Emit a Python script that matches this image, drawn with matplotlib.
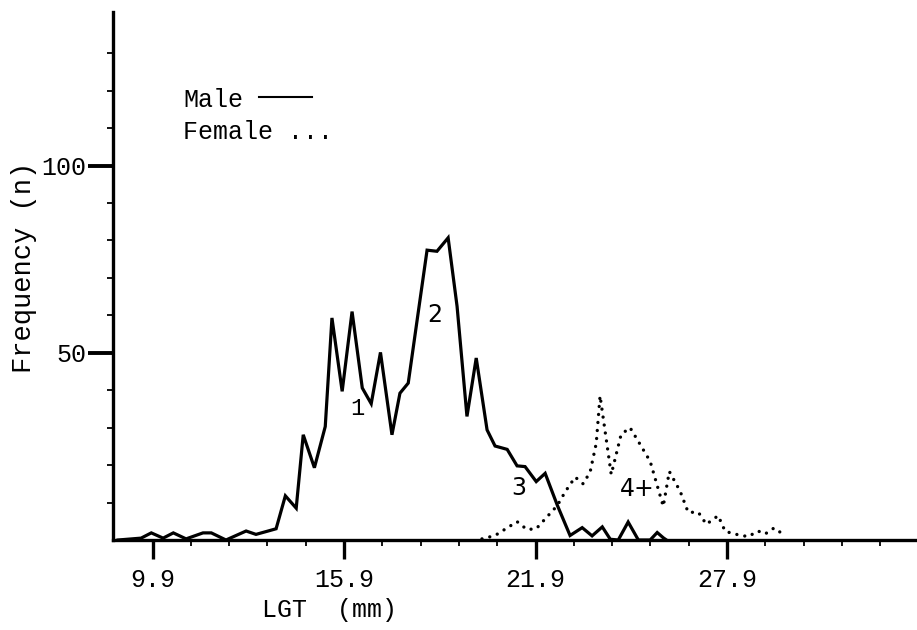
import numpy as np
import matplotlib as mpl
import matplotlib.pyplot as plt
from matplotlib.lines import Line2D

mpl.use("Agg")

plt.rcParams.update({"font.family": ["Liberation Mono", "DejaVu Sans Mono"]})
plt.rcParams.update({"font.size": 18})

# LGT (mm) vs frequency (n)
male_lgt = [8.82, 9.54, 9.86, 10.23, 10.55, 10.95, 11.48, 11.74, 12.2, 12.83,
            13.14, 13.52, 13.77, 14.06, 14.4, 14.62, 14.97, 15.31, 15.52, 15.84,
            16.15, 16.47, 16.75, 17.04, 17.4, 17.65, 17.91, 18.19, 18.5, 18.81,
            19.16, 19.44, 19.75, 20.04, 20.38, 20.63, 21.01, 21.32, 21.57, 21.92,
            22.2, 22.58, 22.98, 23.36, 23.67, 23.99, 24.24, 24.49, 24.8, 25.12,
            25.49, 25.71, 25.9, 26.0]
male_n = [0, 0.5, 1.9, 0.5, 1.9, 0.3, 1.9, 1.9, 0, 2.4,
          1.5, 2.4, 3.0, 11.8, 8.5, 28.1, 19.3, 30.3, 59.3, 39.7,
          61.0, 40.6, 36.4, 50.1, 28.1, 39.2, 41.9, 58.8, 77.4, 77.1,
          80.7, 62.4, 33.0, 48.6, 29.4, 25.1, 24.2, 19.8, 19.6, 15.6,
          17.8, 9.3, 1.2, 3.3, 1.1, 3.5, 0.2, 0, 4.8, 0,
          0, 2.0, 0.6, 0]

female_lgt = [20.22, 20.63, 21.32, 21.63, 21.92, 22.26, 22.58, 22.83, 23.14, 23.39,
              23.61, 23.8, 23.92, 24.27, 24.58, 24.86, 25.17, 25.49, 25.9, 26.09,
              26.43, 26.68, 27.0, 27.25, 27.62, 27.84, 28.24, 28.56, 28.87, 29.09,
              29.37, 29.56, 29.72]
female_n = [0.3, 1.2, 4.9, 2.8, 3.0, 6.2, 9.2, 12.9, 16.8, 15.0,
            18.2, 25.8, 38.5, 17.5, 28.2, 30.0, 25.6, 21.0, 9.0, 18.3,
            13.0, 7.4, 7.4, 4.2, 6.5, 2.3, 1.4, 0.9, 2.4, 1.6,
            3.2, 2.1, 0.7]

x_major = [9.9, 15.9, 21.9, 27.9]
x_labels = ["9.9", "15.9", "21.9", "27.9"]
y_major = [50, 100]
y_labels = ["50", "100"]

age_labels = ["1", "2", "3", "4+"]
age_pos = [(16.3, 35.2), (18.75, 60.2), (21.36, 14.0), (25.07, 13.6)]

fig = plt.figure(figsize=(9.17, 6.3), dpi=100)
ax = fig.add_axes([113 / 917, 90 / 630, 804 / 917, 528 / 630])

ax.plot(male_lgt, male_n, color="black", lw=2.3, solid_joinstyle="miter")
ax.plot(female_lgt, female_n, color="black", lw=2.4,
        linestyle=(0, (0.01, 2.4)), dash_capstyle="round")

ax.set_xlim(8.66, 33.85)
ax.set_ylim(0, 141)

for side in ["top", "right"]:
    ax.spines[side].set_visible(False)
for side in ["left", "bottom"]:
    ax.spines[side].set_linewidth(2.4)

ax.set_xticks(x_major, labels=x_labels)
ax.set_xticks([t for t in np.arange(11.1, 33.8, 1.2)
               if min(abs(t - m) for m in x_major) > 0.1], minor=True)
ax.set_yticks(y_major, labels=y_labels)
ax.set_yticks([t for t in range(10, 140, 10) if t not in y_major], minor=True)

ax.tick_params(axis="x", which="major", length=14, width=2.4, pad=6)
ax.tick_params(axis="x", which="minor", length=4, width=1.3)
ax.tick_params(axis="y", which="major", length=18, width=2.8, pad=1)
ax.tick_params(axis="y", which="minor", length=4, width=1.3)

# age group labels
for lab, (xx, yy) in zip(age_labels, age_pos):
    fam = ["Liberation Mono"] if lab == "1" else ["DejaVu Sans"]
    ax.text(xx, yy, lab, ha="center", va="center", fontsize=17, family=fam)

# hand-typed legend
fig.text(183 / 917, 1 - 100 / 630, "Male", ha="left", va="center")
fig.text(183 / 917, 1 - 132 / 630, "Female ...", ha="left", va="center")
fig.add_artist(Line2D([259 / 917, 312 / 917], [1 - 97 / 630, 1 - 97 / 630],
                      color="black", lw=1.5))

fig.text(24 / 917, 1 - 267 / 630, "Frequency (n)", rotation=90,
         ha="center", va="center", fontsize=19.5)
fig.text(330 / 917, 1 - 610 / 630, "LGT  (mm)", ha="center", va="center")

plt.savefig("out.png", dpi=100)
